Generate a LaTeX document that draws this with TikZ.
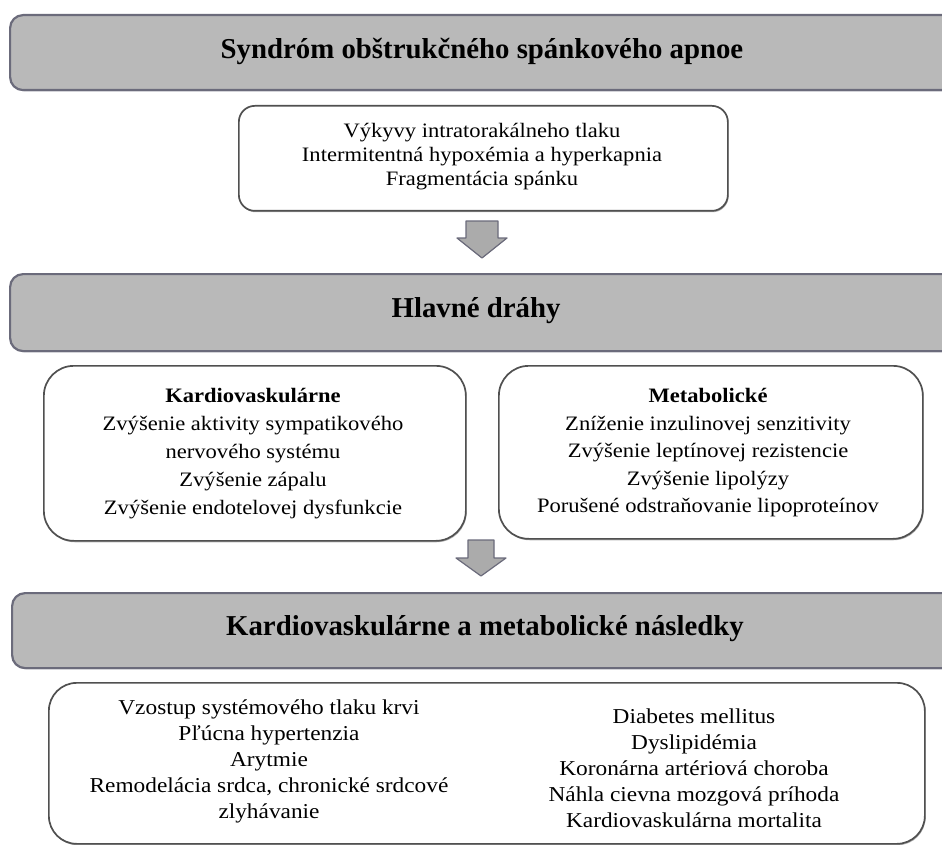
\documentclass[tikz,border=0pt]{standalone}
\usepackage{fontspec}
\setmainfont{Liberation Serif}[FakeStretch=1.1]
\newfontfamily\hfont{Liberation Serif}
\usetikzlibrary{shadows}
\definecolor{hdrfill}{HTML}{B9B9B9}
\definecolor{hdrline}{HTML}{6B6B7B}
\definecolor{boxline}{HTML}{505050}
\definecolor{arrfill}{HTML}{ABABAB}
\begin{document}
\begin{tikzpicture}[x=1pt,y=-1pt,
  hdr/.style={fill=hdrfill, draw=hdrline, line width=2.2pt, rounded corners=13pt,
    anchor=north west, inner sep=0pt,
    drop shadow={shadow xshift=0.8pt, shadow yshift=-1.2pt, fill=hdrline, opacity=0.5}},
  wbox/.style={fill=white, draw=boxline, line width=1.7pt, anchor=north west, inner sep=0pt,
    drop shadow={shadow xshift=0.8pt, shadow yshift=-1.4pt, fill=black, opacity=0.3}},
  htext/.style={font=\hfont\bfseries\fontsize{28.8}{34}\selectfont, inner sep=0pt},
  btext/.style={align=center, inner sep=0pt},
  blockarrow/.style={fill=arrfill, draw=hdrline, line width=1.2pt, line join=round}]
\useasboundingbox (0,0) rectangle (942,845);
\clip (0,0) rectangle (942,845);
\fill[white] (0,0) rectangle (942,845);

% headers
\node[hdr, minimum width=960pt, minimum height=75pt] (h1) at (9,14) {};
\node[htext] (h1t) at (482,51) {Syndróm obštrukčného spánkového apnoe};

\node[hdr, minimum width=960pt, minimum height=77pt] (h2) at (9,273) {};
\node[htext] (h2t) at (476,311) {Hlavné dráhy};

\node[hdr, minimum width=960pt, minimum height=75pt] (h3) at (11,592) {};
\node[htext] (h3t) at (485,629) {Kardiovaskulárne a metabolické následky};

% box 1
\node[wbox, rounded corners=16pt, minimum width=489pt, minimum height=105pt] (b1) at (238,105) {};
\node[btext, font=\fontsize{20.5}{24}\selectfont] (b1t) at (482,157)
  {Výkyvy intratorakálneho tlaku\\Intermitentná hypoxémia a hyperkapnia\\Fragmentácia spánku};

% arrow 1
\draw[blockarrow] (466,221) -- (498,221) -- (498,238) -- (507,238) -- (482,258)
  -- (457,238) -- (466,238) -- cycle;

% middle boxes
\node[wbox, rounded corners=30pt, minimum width=422pt, minimum height=175pt] (bl) at (43,365) {};
\node[btext, font=\fontsize{20.5}{28}\selectfont] (blt) at (253,454)
  {\textbf{Kardiovaskulárne}\\Zvýšenie aktivity sympatikového\\nervového systému\\Zvýšenie zápalu\\Zvýšenie endotelovej dysfunkcie};

\node[wbox, rounded corners=30pt, minimum width=424pt, minimum height=173pt] (br) at (498,365) {};
\node[btext, font=\fontsize{20.5}{27.5}\selectfont] (brt) at (708,453)
  {\textbf{Metabolické}\\Zníženie inzulinovej senzitivity\\Zvýšenie leptínovej rezistencie\\Zvýšenie lipolýzy\\Porušené odstraňovanie lipoproteínov};

% arrow 2
\draw[blockarrow] (468,540) -- (494,540) -- (494,558) -- (506,558) -- (481,576)
  -- (456,558) -- (468,558) -- cycle;

% bottom box
\node[wbox, rounded corners=28pt, minimum width=876pt, minimum height=161pt] (bb) at (48,682) {};
\node[btext, font=\fontsize{21.2}{26}\selectfont] (bbl) at (269,761)
  {Vzostup systémového tlaku krvi\\Pľúcna hypertenzia\\Arytmie\\Remodelácia srdca, chronické srdcové\\zlyhávanie};
\node[btext, font=\fontsize{21.2}{26}\selectfont] (bbr) at (694,768)
  {Diabetes mellitus\\Dyslipidémia\\Koronárna artériová choroba\\Náhla cievna mozgová príhoda\\Kardiovaskulárna mortalita};
\end{tikzpicture}
\end{document}
